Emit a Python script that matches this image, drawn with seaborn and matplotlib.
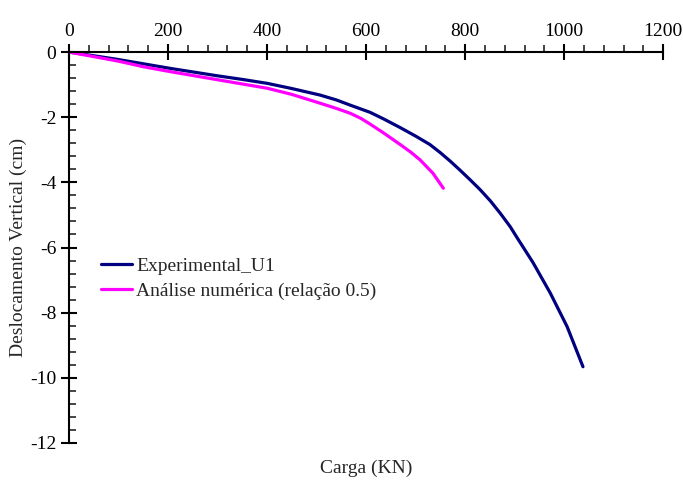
import matplotlib
matplotlib.use("Agg")
import matplotlib.pyplot as plt
from matplotlib.ticker import MultipleLocator
import seaborn as sns
import pandas as pd

# Data
exp_carga = [0, 40, 100, 150, 204, 250, 300, 350, 400, 450, 507, 540, 568, 608, 635, 669, 700,
             729, 750, 770, 790, 810, 830, 851, 871, 891, 905, 937, 972, 1006, 1038]
exp_desl = [0, -0.09, -0.23, -0.36, -0.50, -0.61, -0.73, -0.84, -0.96, -1.12, -1.32, -1.47, -1.63,
            -1.85, -2.05, -2.32, -2.58, -2.84, -3.09, -3.35, -3.63, -3.92, -4.22, -4.57, -4.95,
            -5.36, -5.70, -6.46, -7.40, -8.43, -9.66]
num_carga = [0, 50, 100, 150, 204, 250, 300, 350, 400, 450, 507, 540, 568, 590, 608, 635, 669, 690, 709, 735, 756]
num_desl = [0, -0.14, -0.28, -0.45, -0.60, -0.72, -0.85, -0.98, -1.11, -1.30, -1.57, -1.73, -1.88,
            -2.04, -2.21, -2.48, -2.84, -3.07, -3.31, -3.72, -4.18]
labels = ["Experimental_U1", "Análise numérica (relação 0.5)"]
x_ticks = [0, 200, 400, 600, 800, 1000, 1200]
y_ticks = [0, -2, -4, -6, -8, -10, -12]

df = pd.concat([
    pd.DataFrame({"Carga": exp_carga, "Desl": exp_desl, "Serie": labels[0]}),
    pd.DataFrame({"Carga": num_carga, "Desl": num_desl, "Serie": labels[1]}),
], ignore_index=True)

sns.set_style("ticks")
plt.rcParams["font.family"] = ["Liberation Serif", "DejaVu Serif"]
plt.rcParams["font.size"] = 14
plt.rcParams["lines.solid_joinstyle"] = "round"

fig = plt.figure(figsize=(6.83, 4.82), dpi=100)
ax = fig.add_axes([0.101, 0.081, 0.870, 0.811])

sns.lineplot(data=df, x="Carga", y="Desl", hue="Serie", sort=False,
             palette={labels[0]: "#000080", labels[1]: "#FF00FF"},
             linewidth=2.3, ax=ax, estimator=None)

ax.set_xlim(0, 1200)
ax.set_ylim(-12, 0)
ax.set_xticks(x_ticks)
ax.set_yticks(y_ticks)
ax.set_xticklabels([str(v) for v in x_ticks])
ax.set_yticklabels([str(v) for v in y_ticks])
ax.xaxis.set_minor_locator(MultipleLocator(40))
ax.yaxis.set_minor_locator(MultipleLocator(0.4))

ax.xaxis.tick_top()
ax.xaxis.set_label_position("bottom")
for s in ["right", "bottom"]:
    ax.spines[s].set_visible(False)
for s in ["left", "top"]:
    ax.spines[s].set_linewidth(1.5)
    ax.spines[s].set_color("black")

ax.tick_params(axis="x", which="major", direction="inout", length=12, width=1.5,
               labelsize=14, pad=3, top=True, bottom=False, colors="black")
ax.tick_params(axis="x", which="minor", direction="out", length=5, width=1.2,
               top=True, bottom=False)
ax.tick_params(axis="y", which="major", direction="inout", length=12, width=1.5,
               labelsize=14, pad=3, colors="black")
ax.tick_params(axis="y", which="minor", direction="in", length=5, width=1.2)

ax.set_xlabel("Carga (KN)", fontsize=14, labelpad=12)
ax.set_ylabel("Deslocamento Vertical (cm)", fontsize=14, labelpad=2)

leg = ax.legend(loc="center left", bbox_to_anchor=(0.025, 0.42), frameon=False,
                fontsize=14, handlelength=1.6, handletextpad=0.2, labelspacing=0.4)

fig.savefig("out.png", dpi=100)
